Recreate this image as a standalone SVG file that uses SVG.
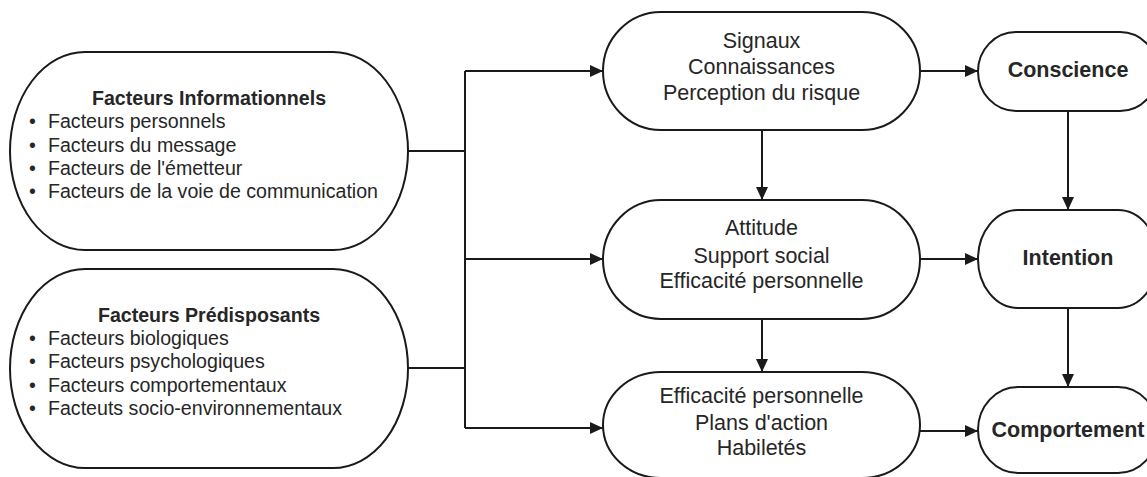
<svg xmlns="http://www.w3.org/2000/svg" width="1147" height="477" viewBox="0 0 1147 477">
<defs>
<marker id="arr" markerWidth="14" markerHeight="12" refX="13" refY="6" orient="auto" markerUnits="userSpaceOnUse">
<path d="M0,0 L13,6 L0,12 Z" fill="#1a1a1a"/>
</marker>
<style>
.shape{fill:#fff;stroke:#1a1a1a;stroke-width:2}
.line{fill:none;stroke:#1a1a1a;stroke-width:2}
text{font-family:"Liberation Sans",Arial,sans-serif;fill:#262626}
.lt{font-size:19.6px}
.ltb{font-size:19.6px;font-weight:bold;text-anchor:middle}
.mt{font-size:21.5px;text-anchor:middle}
.rt{font-size:21.5px;font-weight:bold;text-anchor:middle}
</style>
</defs>
<rect width="1147" height="477" fill="#fff"/>
<g id="connectors">
<path class="line" d="M408,151 H465"/>
<path class="line" d="M408,368 H465"/>
<path class="line" d="M465,71 V428"/>
<path class="line" d="M465,71 H603" marker-end="url(#arr)"/>
<path class="line" d="M465,259 H603" marker-end="url(#arr)"/>
<path class="line" d="M465,428 H603" marker-end="url(#arr)"/>
<path class="line" d="M762,130 V200" marker-end="url(#arr)"/>
<path class="line" d="M762,319 V372" marker-end="url(#arr)"/>
<path class="line" d="M920,71 H978" marker-end="url(#arr)"/>
<path class="line" d="M920,259 H978" marker-end="url(#arr)"/>
<path class="line" d="M920,431 H978" marker-end="url(#arr)"/>
<path class="line" d="M1068,111 V210" marker-end="url(#arr)"/>
<path class="line" d="M1068,308 V387" marker-end="url(#arr)"/>
</g>
<g id="info">
<rect class="shape" x="10" y="52" width="398" height="198" rx="75" ry="99"/>
<text class="ltb" x="209" y="105">Facteurs Informationnels</text>
<text class="lt" x="29" y="128.3">•</text><text class="lt" x="48" y="128.3">Facteurs personnels</text>
<text class="lt" x="29" y="151.6">•</text><text class="lt" x="48" y="151.6">Facteurs du message</text>
<text class="lt" x="29" y="175">•</text><text class="lt" x="48" y="175">Facteurs de l'émetteur</text>
<text class="lt" x="29" y="198.3">•</text><text class="lt" x="48" y="198.3">Facteurs de la voie de communication</text>
</g>
<g id="predis">
<rect class="shape" x="10" y="269" width="398" height="199" rx="75" ry="99.5"/>
<text class="ltb" x="209" y="321.7">Facteurs Prédisposants</text>
<text class="lt" x="29" y="345">•</text><text class="lt" x="48" y="345">Facteurs biologiques</text>
<text class="lt" x="29" y="368.3">•</text><text class="lt" x="48" y="368.3">Facteurs psychologiques</text>
<text class="lt" x="29" y="391.7">•</text><text class="lt" x="48" y="391.7">Facteurs comportementaux</text>
<text class="lt" x="29" y="415">•</text><text class="lt" x="48" y="415">Facteuts socio-environnementaux</text>
</g>
<g id="signaux">
<rect class="shape" x="603" y="12" width="317" height="118" rx="58" ry="59"/>
<text class="mt" x="761.5" y="48.3">Signaux</text>
<text class="mt" x="761.5" y="74">Connaissances</text>
<text class="mt" x="761.5" y="100">Perception du risque</text>
</g>
<g id="attitude">
<rect class="shape" x="603" y="200" width="317" height="119" rx="58" ry="59.5"/>
<text class="mt" x="761.5" y="235">Attitude</text>
<text class="mt" x="761.5" y="262.5">Support social</text>
<text class="mt" x="761.5" y="288">Efficacité personnelle</text>
</g>
<g id="plans">
<rect class="shape" x="603" y="372" width="317" height="106" rx="58" ry="53"/>
<text class="mt" x="761.5" y="403">Efficacité personnelle</text>
<text class="mt" x="761.5" y="430">Plans d'action</text>
<text class="mt" x="761.5" y="455">Habiletés</text>
</g>
<g id="conscience">
<rect class="shape" x="978" y="32" width="180" height="79" rx="38" ry="39.5"/>
<text class="rt" x="1068" y="77">Conscience</text>
</g>
<g id="intention">
<rect class="shape" x="978" y="210" width="180" height="98" rx="40" ry="49"/>
<text class="rt" x="1068" y="265">Intention</text>
</g>
<g id="comportement">
<rect class="shape" x="978" y="387" width="180" height="86" rx="40" ry="43"/>
<text class="rt" x="1068" y="437">Comportement</text>
</g>
</svg>
